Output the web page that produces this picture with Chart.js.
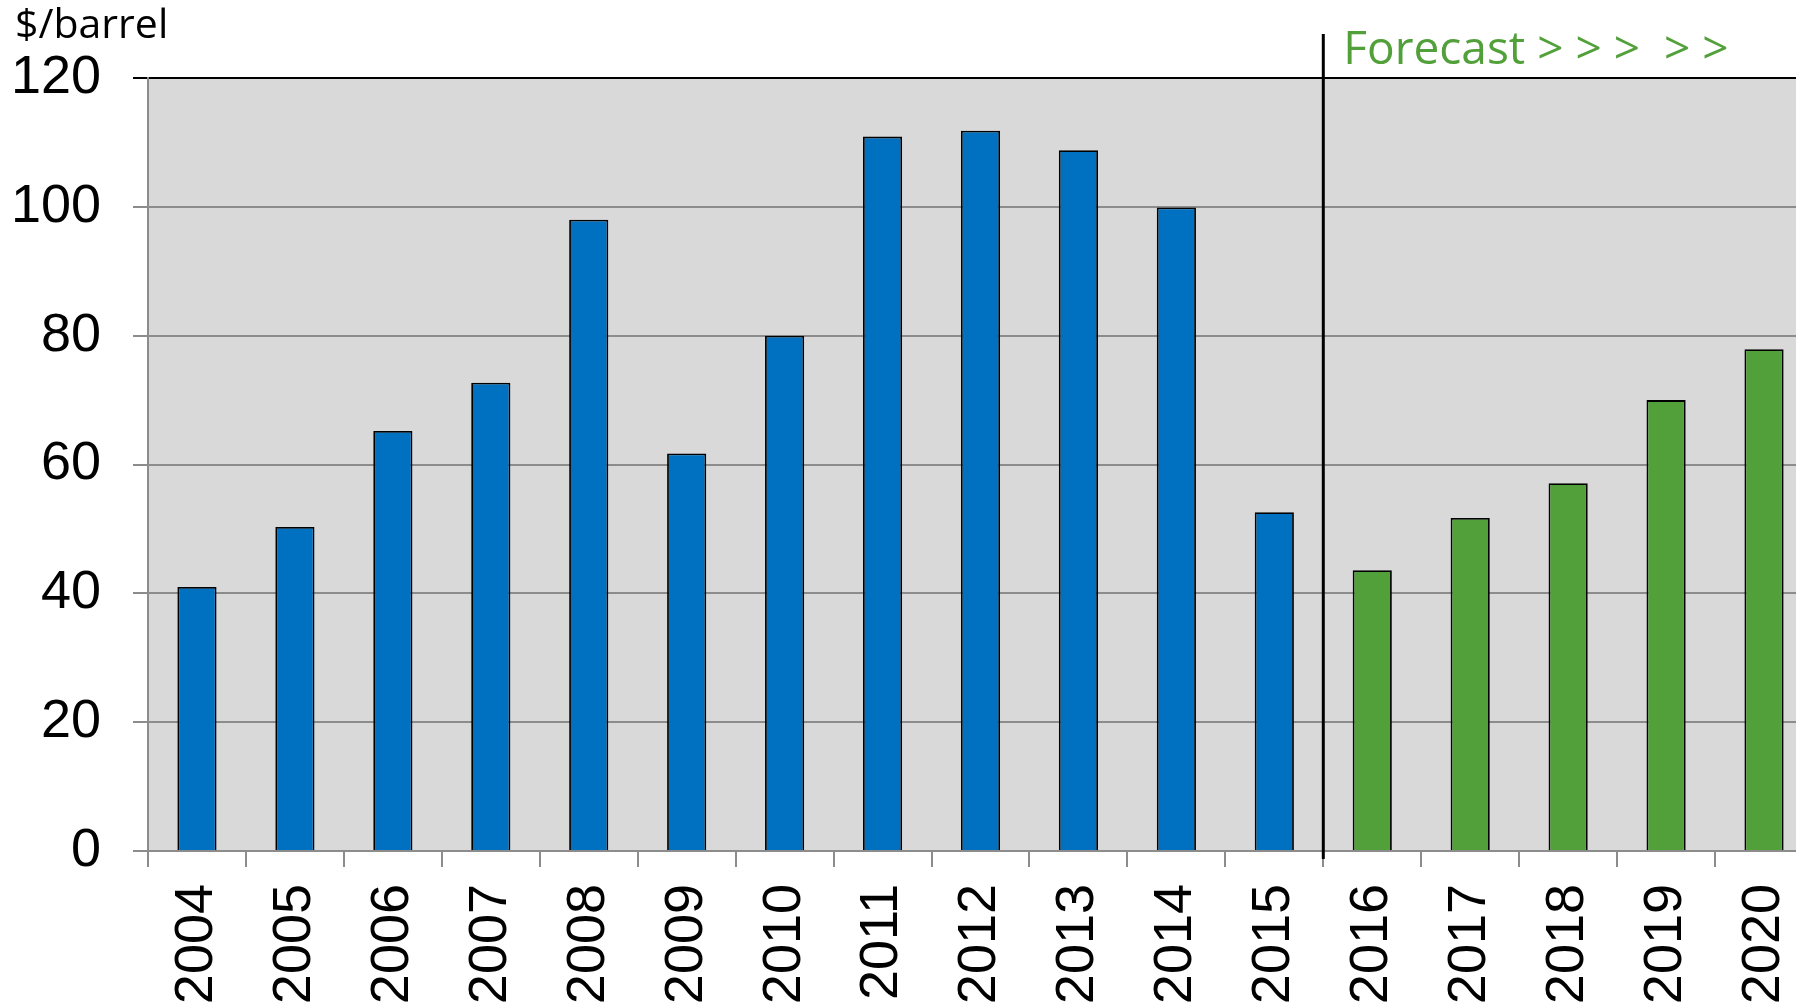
<!DOCTYPE html>
<html>
<head>
<meta charset="utf-8">
<script src="https://cdn.jsdelivr.net/npm/chart.js@4"></script>
<style>
  html, body { margin: 0; padding: 0; background: #fff; overflow: hidden; }
  #graphic { display: block; }
</style>
</head>
<body>
<canvas id="graphic" width="1830" height="1005"></canvas>
<script>
const years = ['2004', '2005', '2006', '2007', '2008', '2009', '2010', '2011', '2012',
  '2013', '2014', '2015', '2016', '2017', '2018', '2019', '2020']
const prices = [41, 50.3, 65.2, 72.7, 98, 61.7, 80, 110.9, 111.8, 108.8, 99.9, 52.6,
  43.6, 51.7, 57.1, 70, 77.9]
const firstForecastYear = '2016'
const yTicks = [0, 20, 40, 60, 80, 100, 120]

const actualColor = '#0070C0'
const forecastColor = '#52A03A'
const forecastIndex = years.indexOf(firstForecastYear)

const barColors = years.map((y, i) => i >= forecastIndex ? forecastColor : actualColor)

const plotBackground = {
  id: 'plotBackground',
  beforeDraw: (chart) => {
    const {ctx, chartArea} = chart
    ctx.save()
    ctx.fillStyle = '#D9D9D9'
    ctx.fillRect(chartArea.left, chartArea.top, chartArea.right - chartArea.left, chartArea.bottom - chartArea.top)
    ctx.restore()
  }
}

const forecastMarker = {
  id: 'forecastMarker',
  afterDatasetsDraw: (chart) => {
    const {ctx, chartArea} = chart
    const xScale = chart.scales.x
    const x = (xScale.getPixelForValue(forecastIndex - 1) + xScale.getPixelForValue(forecastIndex)) / 2
    ctx.save()
    ctx.strokeStyle = '#000'
    ctx.lineWidth = 3
    ctx.beginPath()
    ctx.moveTo(x, chartArea.top - 44)
    ctx.lineTo(x, chartArea.bottom + 8)
    ctx.stroke()

    ctx.fillStyle = forecastColor
    ctx.font = '46px "Open Sans"'
    ctx.textBaseline = 'alphabetic'
    ctx.fillText('Forecast > > >  > >', x + 20, chartArea.top - 14)

    ctx.fillStyle = '#000'
    ctx.font = '41px "Open Sans"'
    ctx.fillText('$/barrel', 15, chartArea.top - 40)
    ctx.restore()
  }
}

const ctx = document.querySelector('#graphic').getContext('2d')

new Chart(ctx, {
  type: 'bar',
  data: {
    labels: years,
    datasets: [{
      label: '$/barrel',
      data: prices,
      backgroundColor: barColors,
      borderColor: '#000',
      borderWidth: 1.8,
      barPercentage: 0.4,
      categoryPercentage: 1
    }]
  },
  options: {
    responsive: false,
    animation: false,
    layout: { padding: { left: 11, right: 17, top: 78, bottom: 0 } },
    plugins: {
      legend: { display: false },
      tooltip: { enabled: false }
    },
    scales: {
      x: {
        offset: true,
        afterFit: (axis) => {
          axis.height = 154
          axis.paddingLeft = 0
          axis.paddingRight = 0
        },
        grid: {
          offset: true,
          drawOnChartArea: false,
          color: '#8c8c8c',
          lineWidth: 2,
          tickLength: 16
        },
        border: { color: '#8c8c8c', width: 2 },
        ticks: {
          color: '#000',
          font: { family: '"Liberation Sans", Arial', size: 54 },
          minRotation: 90,
          maxRotation: 90,
          padding: 17,
          autoSkip: false
        }
      },
      y: {
        min: 0,
        max: 120,
        afterBuildTicks: (axis) => { axis.ticks = yTicks.map(v => ({value: v})) },
        afterFit: (axis) => { axis.width = 137 },
        grid: {
          color: (c) => c.tick && c.tick.value === 120 ? '#000' : '#8c8c8c',
          lineWidth: 2,
          tickLength: 15
        },
        border: { color: '#8c8c8c', width: 2 },
        ticks: {
          color: '#000',
          font: { family: '"Liberation Sans", Arial', size: 54 },
          padding: 32
        }
      }
    }
  },
  plugins: [plotBackground, forecastMarker]
})
</script>
</body>
</html>
